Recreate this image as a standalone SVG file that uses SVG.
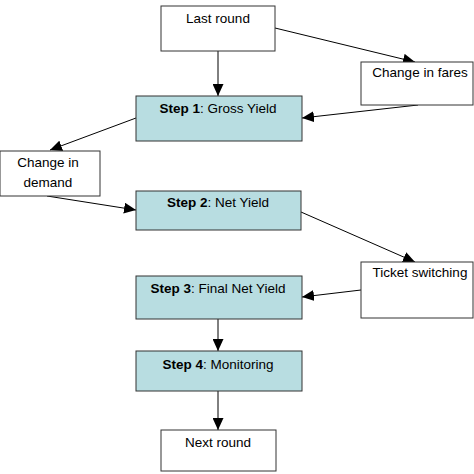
<svg xmlns="http://www.w3.org/2000/svg" width="474" height="474" viewBox="0 0 474 474">
<defs>
<marker id="ah" viewBox="0 0 12 11" refX="12" refY="5.5" markerWidth="12" markerHeight="11" markerUnits="userSpaceOnUse" orient="auto">
<path d="M0,0 L12,5.5 L0,11 z" fill="#000"/>
</marker>
<style>
.box{fill:#fff;stroke:#333;stroke-width:1}
.step{fill:#b8dde1;stroke:#333;stroke-width:1}
text{font-family:"Liberation Sans",Arial,sans-serif;font-size:13.5px;fill:#000;text-anchor:middle}
.b{font-weight:bold}
.c{stroke:#000;stroke-width:1;fill:none;marker-end:url(#ah)}
</style>
</defs>
<rect width="474" height="474" fill="#fff"/>
<g id="connectors">
<line class="c" x1="218" y1="51" x2="218" y2="96"/>
<line class="c" x1="275" y1="28" x2="415" y2="62"/>
<line class="c" x1="418" y1="105" x2="302" y2="118"/>
<line class="c" x1="136" y1="118" x2="50" y2="150"/>
<line class="c" x1="47" y1="196" x2="136" y2="210"/>
<line class="c" x1="301" y1="212" x2="415" y2="262"/>
<line class="c" x1="361" y1="290" x2="302" y2="297"/>
<line class="c" x1="218" y1="319" x2="218" y2="351"/>
<line class="c" x1="218" y1="391" x2="218" y2="430"/>
</g>
<g id="last-round">
<rect class="box" x="161" y="6" width="114" height="45"/>
<text x="218" y="23">Last round</text>
</g>
<g id="change-in-fares">
<rect class="box" x="361" y="62" width="112" height="43"/>
<text x="420" y="77">Change in fares</text>
</g>
<g id="step1">
<rect class="step" x="136" y="96" width="166" height="45"/>
<text x="218" y="113"><tspan class="b">Step 1</tspan>: Gross Yield</text>
</g>
<g id="change-in-demand">
<rect class="box" x="0" y="151" width="100" height="45"/>
<text x="48" y="167">Change in</text>
<text x="48" y="187">demand</text>
</g>
<g id="step2">
<rect class="step" x="136" y="191" width="165" height="39"/>
<text x="218" y="207"><tspan class="b">Step 2</tspan>: Net Yield</text>
</g>
<g id="ticket-switching">
<rect class="box" x="361" y="262" width="112" height="56"/>
<text x="420" y="277">Ticket switching</text>
</g>
<g id="step3">
<rect class="step" x="136" y="276" width="166" height="43"/>
<text x="218" y="293"><tspan class="b">Step 3</tspan>: Final Net Yield</text>
</g>
<g id="step4">
<rect class="step" x="136" y="351" width="166" height="40"/>
<text x="218" y="369"><tspan class="b">Step 4</tspan>: Monitoring</text>
</g>
<g id="next-round">
<rect class="box" x="161" y="430" width="115" height="41"/>
<text x="218" y="447">Next round</text>
</g>
</svg>
